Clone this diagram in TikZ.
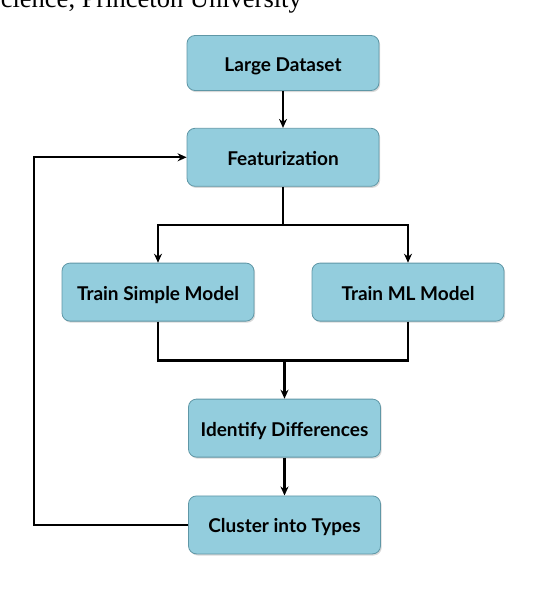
\documentclass[tikz,border=0pt]{standalone}
\usepackage{fontspec}
\setmainfont{Liberation Serif}
\newfontfamily\boxfont{Lato}
\usepackage{tikz}
\usetikzlibrary{positioning,arrows.meta,shadows}
\definecolor{boxfill}{HTML}{93CDDD}
\definecolor{boxline}{HTML}{5F97A6}
\tikzset{
  stepbox/.style={rectangle, rounded corners=8pt, draw=boxline, line width=0.8pt,
                  fill=boxfill, minimum width=192pt, minimum height=58pt,
                  text height=17pt, text depth=1pt,
                  font=\boxfont\bfseries\fontsize{19}{22}\selectfont,
                  drop shadow={shadow xshift=1.2pt, shadow yshift=-1.6pt, fill=black!25, opacity=0.6}},
  fwd/.style={-{Stealth[length=9pt, width=8pt]}, line width=2.2pt},
  link/.style={line width=2.2pt},
}
\begin{document}
\begin{tikzpicture}[x=1pt, y=-1pt]
  \useasboundingbox (0,0) rectangle (534,594);
  \begin{scope}
    \clip (0,0) rectangle (534,594);
    \node[anchor=base east, inner sep=0pt, font=\fontsize{26.5}{30}\selectfont] (caption) at (302,8) {Science, Princeton University};
  \end{scope}

  \node[stepbox, minimum height=55pt] (data) at (283,63) {Large Dataset};
  \node[stepbox] (feat) [below=37pt of data] {Featurization};
  \node[stepbox] (simple) [below=76pt of feat, xshift=-125pt] {Train Simple Model};
  \node[stepbox] (mlmodel) [below=76pt of feat, xshift=125pt] {Train ML Model};
  \node[stepbox] (ident) [below=212pt of feat, xshift=1.5pt] {Identify Differences};
  \node[stepbox] (cluster) [below=38pt of ident] {Cluster into Types};

  \coordinate[below=38pt of feat.south] (split);
  \coordinate[below=39pt of simple.south -| ident.north] (merge);
  \coordinate[left=154pt of cluster.west] (back);

  \draw[fwd] (data) -- (feat);
  \draw[link] (feat) -- (split);
  \draw[fwd] (split) -| (simple.north);
  \draw[fwd] (split) -| (mlmodel.north);
  \draw[link] (simple.south) |- (merge);
  \draw[link] (mlmodel.south) |- (merge);
  \draw[fwd] (merge) -- (ident);
  \draw[fwd] (ident) -- (cluster);
  \draw[fwd] (cluster.west) -- (back) |- (feat.west);
\end{tikzpicture}
\end{document}
